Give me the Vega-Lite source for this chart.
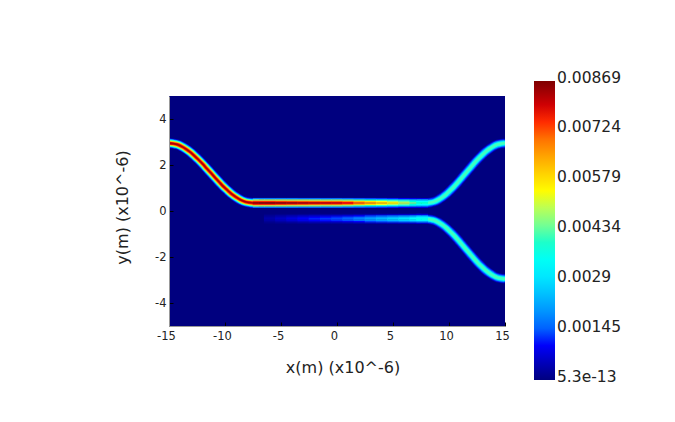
{"$schema":"https://vega.github.io/schema/vega-lite/v6.json","width":336,"height":230,"autosize":{"type":"none"},"padding":{"left":169,"top":96,"right":170,"bottom":96},"background":"white","config":{"view":{"stroke":null},"font":"DejaVu Sans"},
"datasets":{"bg":[{"x":-15,"x2":15,"y":-5,"y2":5,"v":5.3e-13}],
"strong":[{"x":-15,"y":2.95},{"x":-14.63,"y":2.93},{"x":-14.25,"y":2.89},{"x":-13.88,"y":2.81},{"x":-13.5,"y":2.7},{"x":-13.13,"y":2.57},{"x":-12.75,"y":2.41},{"x":-12.38,"y":2.24},{"x":-12,"y":2.05},{"x":-11.63,"y":1.85},{"x":-11.25,"y":1.65},{"x":-10.88,"y":1.45},{"x":-10.5,"y":1.25},{"x":-10.13,"y":1.06},{"x":-9.75,"y":0.89},{"x":-9.38,"y":0.73},{"x":-9,"y":0.6},{"x":-8.63,"y":0.49},{"x":-8.25,"y":0.41},{"x":-7.88,"y":0.37},{"x":-7.5,"y":0.35},{"x":-7,"y":0.35}],
"weak":[{"b":"up","x":7.6,"y":0.35},{"b":"up","x":8,"y":0.35},{"b":"up","x":8.35,"y":0.37},{"b":"up","x":8.7,"y":0.41},{"b":"up","x":9.05,"y":0.49},{"b":"up","x":9.4,"y":0.6},{"b":"up","x":9.75,"y":0.73},{"b":"up","x":10.1,"y":0.89},{"b":"up","x":10.45,"y":1.06},{"b":"up","x":10.8,"y":1.25},{"b":"up","x":11.15,"y":1.45},{"b":"up","x":11.5,"y":1.65},{"b":"up","x":11.85,"y":1.85},{"b":"up","x":12.2,"y":2.05},{"b":"up","x":12.55,"y":2.24},{"b":"up","x":12.9,"y":2.41},{"b":"up","x":13.25,"y":2.57},{"b":"up","x":13.6,"y":2.7},{"b":"up","x":13.95,"y":2.81},{"b":"up","x":14.3,"y":2.89},{"b":"up","x":14.65,"y":2.93},{"b":"up","x":15,"y":2.95},
{"b":"down","x":7.6,"y":-0.34},{"b":"down","x":8,"y":-0.35},{"b":"down","x":8.35,"y":-0.37},{"b":"down","x":8.7,"y":-0.41},{"b":"down","x":9.05,"y":-0.49},{"b":"down","x":9.4,"y":-0.6},{"b":"down","x":9.75,"y":-0.73},{"b":"down","x":10.1,"y":-0.89},{"b":"down","x":10.45,"y":-1.06},{"b":"down","x":10.8,"y":-1.25},{"b":"down","x":11.15,"y":-1.45},{"b":"down","x":11.5,"y":-1.65},{"b":"down","x":11.85,"y":-1.85},{"b":"down","x":12.2,"y":-2.05},{"b":"down","x":12.55,"y":-2.24},{"b":"down","x":12.9,"y":-2.41},{"b":"down","x":13.25,"y":-2.57},{"b":"down","x":13.6,"y":-2.7},{"b":"down","x":13.95,"y":-2.81},{"b":"down","x":14.3,"y":-2.89},{"b":"down","x":14.65,"y":-2.93},{"b":"down","x":15,"y":-2.95}],
"flat":[
{"x":-7,"y":0.17,"v":0.0017},{"x":-7,"y":0.53,"v":0.0017},{"x":-7,"y":0.23,"v":0.0049},{"x":-7,"y":0.47,"v":0.0049},{"x":-7,"y":0.29,"v":0.0075},{"x":-7,"y":0.41,"v":0.0075},{"x":-7,"y":0.35,"v":0.0085},
{"x":-6,"y":0.17,"v":0.0017},{"x":-6,"y":0.53,"v":0.0017},{"x":-6,"y":0.23,"v":0.0049},{"x":-6,"y":0.47,"v":0.0049},{"x":-6,"y":0.29,"v":0.0075},{"x":-6,"y":0.41,"v":0.0075},{"x":-6,"y":0.35,"v":0.0085},
{"x":-5,"y":0.17,"v":0.0017},{"x":-5,"y":0.53,"v":0.0017},{"x":-5,"y":0.23,"v":0.0049},{"x":-5,"y":0.47,"v":0.0049},{"x":-5,"y":0.29,"v":0.0074},{"x":-5,"y":0.41,"v":0.0074},{"x":-5,"y":0.35,"v":0.0084},
{"x":-4,"y":0.17,"v":0.0017},{"x":-4,"y":0.53,"v":0.0017},{"x":-4,"y":0.23,"v":0.0048},{"x":-4,"y":0.47,"v":0.0048},{"x":-4,"y":0.29,"v":0.0073},{"x":-4,"y":0.41,"v":0.0073},{"x":-4,"y":0.35,"v":0.0083},
{"x":-3,"y":0.17,"v":0.0016},{"x":-3,"y":0.53,"v":0.0016},{"x":-3,"y":0.23,"v":0.0048},{"x":-3,"y":0.47,"v":0.0048},{"x":-3,"y":0.29,"v":0.0072},{"x":-3,"y":0.41,"v":0.0072},{"x":-3,"y":0.35,"v":0.0082},
{"x":-2,"y":0.17,"v":0.0016},{"x":-2,"y":0.53,"v":0.0016},{"x":-2,"y":0.23,"v":0.0047},{"x":-2,"y":0.47,"v":0.0047},{"x":-2,"y":0.29,"v":0.0071},{"x":-2,"y":0.41,"v":0.0071},{"x":-2,"y":0.35,"v":0.0081},
{"x":-1,"y":0.17,"v":0.0016},{"x":-1,"y":0.53,"v":0.0016},{"x":-1,"y":0.23,"v":0.0046},{"x":-1,"y":0.47,"v":0.0046},{"x":-1,"y":0.29,"v":0.007},{"x":-1,"y":0.41,"v":0.007},{"x":-1,"y":0.35,"v":0.008},
{"x":0,"y":0.17,"v":0.0016},{"x":0,"y":0.53,"v":0.0016},{"x":0,"y":0.23,"v":0.0046},{"x":0,"y":0.47,"v":0.0046},{"x":0,"y":0.29,"v":0.007},{"x":0,"y":0.41,"v":0.007},{"x":0,"y":0.35,"v":0.0079},
{"x":1,"y":0.17,"v":0.0015},{"x":1,"y":0.53,"v":0.0015},{"x":1,"y":0.23,"v":0.0044},{"x":1,"y":0.47,"v":0.0044},{"x":1,"y":0.29,"v":0.0067},{"x":1,"y":0.41,"v":0.0067},{"x":1,"y":0.35,"v":0.0076},
{"x":2,"y":0.17,"v":0.0014},{"x":2,"y":0.53,"v":0.0014},{"x":2,"y":0.23,"v":0.0041},{"x":2,"y":0.47,"v":0.0041},{"x":2,"y":0.29,"v":0.0062},{"x":2,"y":0.41,"v":0.0062},{"x":2,"y":0.35,"v":0.0071},
{"x":3,"y":0.17,"v":0.0013},{"x":3,"y":0.53,"v":0.0013},{"x":3,"y":0.23,"v":0.0038},{"x":3,"y":0.47,"v":0.0038},{"x":3,"y":0.29,"v":0.0058},{"x":3,"y":0.41,"v":0.0058},{"x":3,"y":0.35,"v":0.0066},
{"x":4,"y":0.17,"v":0.0012},{"x":4,"y":0.53,"v":0.0012},{"x":4,"y":0.23,"v":0.0035},{"x":4,"y":0.47,"v":0.0035},{"x":4,"y":0.29,"v":0.0054},{"x":4,"y":0.41,"v":0.0054},{"x":4,"y":0.35,"v":0.0061},
{"x":5,"y":0.17,"v":0.0011},{"x":5,"y":0.53,"v":0.0011},{"x":5,"y":0.23,"v":0.0032},{"x":5,"y":0.47,"v":0.0032},{"x":5,"y":0.29,"v":0.0049},{"x":5,"y":0.41,"v":0.0049},{"x":5,"y":0.35,"v":0.0056},
{"x":6,"y":0.17,"v":0.001},{"x":6,"y":0.53,"v":0.001},{"x":6,"y":0.23,"v":0.0029},{"x":6,"y":0.47,"v":0.0029},{"x":6,"y":0.29,"v":0.0044},{"x":6,"y":0.41,"v":0.0044},{"x":6,"y":0.35,"v":0.005},
{"x":7,"y":0.17,"v":0.0009},{"x":7,"y":0.53,"v":0.0009},{"x":7,"y":0.23,"v":0.0026},{"x":7,"y":0.47,"v":0.0026},{"x":7,"y":0.29,"v":0.0039},{"x":7,"y":0.41,"v":0.0039},{"x":7,"y":0.35,"v":0.0044},
{"x":7.6,"y":0.17,"v":0.0008},{"x":7.6,"y":0.53,"v":0.0008},{"x":7.6,"y":0.23,"v":0.0023},{"x":7.6,"y":0.47,"v":0.0023},{"x":7.6,"y":0.29,"v":0.0034},{"x":7.6,"y":0.41,"v":0.0034},{"x":7.6,"y":0.35,"v":0.0039},
{"x":-6,"y":-0.16,"v":0.00007},{"x":-6,"y":-0.52,"v":0.00007},{"x":-6,"y":-0.22,"v":0.0002},{"x":-6,"y":-0.46,"v":0.0002},{"x":-6,"y":-0.28,"v":0.00031},{"x":-6,"y":-0.4,"v":0.00031},{"x":-6,"y":-0.34,"v":0.00035},
{"x":-5,"y":-0.16,"v":0.00011},{"x":-5,"y":-0.52,"v":0.00011},{"x":-5,"y":-0.22,"v":0.00032},{"x":-5,"y":-0.46,"v":0.00032},{"x":-5,"y":-0.28,"v":0.00048},{"x":-5,"y":-0.4,"v":0.00048},{"x":-5,"y":-0.34,"v":0.00055},
{"x":-4,"y":-0.16,"v":0.00015},{"x":-4,"y":-0.52,"v":0.00015},{"x":-4,"y":-0.22,"v":0.00044},{"x":-4,"y":-0.46,"v":0.00044},{"x":-4,"y":-0.28,"v":0.00066},{"x":-4,"y":-0.4,"v":0.00066},{"x":-4,"y":-0.34,"v":0.00075},
{"x":-3,"y":-0.16,"v":0.00019},{"x":-3,"y":-0.52,"v":0.00019},{"x":-3,"y":-0.22,"v":0.00055},{"x":-3,"y":-0.46,"v":0.00055},{"x":-3,"y":-0.28,"v":0.00084},{"x":-3,"y":-0.4,"v":0.00084},{"x":-3,"y":-0.34,"v":0.00095},
{"x":-2,"y":-0.16,"v":0.00022},{"x":-2,"y":-0.52,"v":0.00022},{"x":-2,"y":-0.22,"v":0.00064},{"x":-2,"y":-0.46,"v":0.00064},{"x":-2,"y":-0.28,"v":0.00097},{"x":-2,"y":-0.4,"v":0.00097},{"x":-2,"y":-0.34,"v":0.0011},
{"x":-1,"y":-0.16,"v":0.00024},{"x":-1,"y":-0.52,"v":0.00024},{"x":-1,"y":-0.22,"v":0.0007},{"x":-1,"y":-0.46,"v":0.0007},{"x":-1,"y":-0.28,"v":0.00106},{"x":-1,"y":-0.4,"v":0.00106},{"x":-1,"y":-0.34,"v":0.0012},
{"x":0,"y":-0.16,"v":0.00026},{"x":0,"y":-0.52,"v":0.00026},{"x":0,"y":-0.22,"v":0.00075},{"x":0,"y":-0.46,"v":0.00075},{"x":0,"y":-0.28,"v":0.00114},{"x":0,"y":-0.4,"v":0.00114},{"x":0,"y":-0.34,"v":0.0013},
{"x":1,"y":-0.16,"v":0.0003},{"x":1,"y":-0.52,"v":0.0003},{"x":1,"y":-0.22,"v":0.00087},{"x":1,"y":-0.46,"v":0.00087},{"x":1,"y":-0.28,"v":0.00132},{"x":1,"y":-0.4,"v":0.00132},{"x":1,"y":-0.34,"v":0.0015},
{"x":2,"y":-0.16,"v":0.00036},{"x":2,"y":-0.52,"v":0.00036},{"x":2,"y":-0.22,"v":0.00104},{"x":2,"y":-0.46,"v":0.00104},{"x":2,"y":-0.28,"v":0.00158},{"x":2,"y":-0.4,"v":0.00158},{"x":2,"y":-0.34,"v":0.0018},
{"x":3,"y":-0.16,"v":0.00042},{"x":3,"y":-0.52,"v":0.00042},{"x":3,"y":-0.22,"v":0.00122},{"x":3,"y":-0.46,"v":0.00122},{"x":3,"y":-0.28,"v":0.00185},{"x":3,"y":-0.4,"v":0.00185},{"x":3,"y":-0.34,"v":0.0021},
{"x":4,"y":-0.16,"v":0.00048},{"x":4,"y":-0.52,"v":0.00048},{"x":4,"y":-0.22,"v":0.00139},{"x":4,"y":-0.46,"v":0.00139},{"x":4,"y":-0.28,"v":0.00211},{"x":4,"y":-0.4,"v":0.00211},{"x":4,"y":-0.34,"v":0.0024},
{"x":5,"y":-0.16,"v":0.00054},{"x":5,"y":-0.52,"v":0.00054},{"x":5,"y":-0.22,"v":0.00157},{"x":5,"y":-0.46,"v":0.00157},{"x":5,"y":-0.28,"v":0.00238},{"x":5,"y":-0.4,"v":0.00238},{"x":5,"y":-0.34,"v":0.0027},
{"x":6,"y":-0.16,"v":0.0006},{"x":6,"y":-0.52,"v":0.0006},{"x":6,"y":-0.22,"v":0.00174},{"x":6,"y":-0.46,"v":0.00174},{"x":6,"y":-0.28,"v":0.00264},{"x":6,"y":-0.4,"v":0.00264},{"x":6,"y":-0.34,"v":0.003},
{"x":7,"y":-0.16,"v":0.00066},{"x":7,"y":-0.52,"v":0.00066},{"x":7,"y":-0.22,"v":0.00191},{"x":7,"y":-0.46,"v":0.00191},{"x":7,"y":-0.28,"v":0.0029},{"x":7,"y":-0.4,"v":0.0029},{"x":7,"y":-0.34,"v":0.0033},
{"x":7.6,"y":-0.16,"v":0.00072},{"x":7.6,"y":-0.52,"v":0.00072},{"x":7.6,"y":-0.22,"v":0.00209},{"x":7.6,"y":-0.46,"v":0.00209},{"x":7.6,"y":-0.28,"v":0.00317},{"x":7.6,"y":-0.4,"v":0.00317},{"x":7.6,"y":-0.34,"v":0.0036}
]},
"encoding":{
"x":{"field":"x","type":"quantitative","scale":{"domain":[-15,15],"nice":false,"zero":false},"axis":{"title":"x(m) (x10^-6)","titleFont":"DejaVu Sans","titleFontSize":16,"titleFontWeight":"normal","titleColor":"#222222","titlePadding":18,"titleX":173.5,"values":[-15,-10,-5,0,5,10,15],"labelExpr":"toString(datum.value)","labelFontSize":11.5,"labelColor":"#222222","labelOffset":-3,"labelPadding":8,"tickSize":-4,"tickColor":"#000000","domainColor":"#999999","grid":false,"zindex":1,"labelFlush":false}},
"y":{"field":"y","type":"quantitative","scale":{"domain":[-5,5],"nice":false,"zero":false},"axis":{"title":"y(m) (x10^-6)","titleFont":"DejaVu Sans","titleFontSize":16,"titleFontWeight":"normal","titleColor":"#222222","titlePadding":24,"titleY":111,"values":[-4,-2,0,2,4],"labelExpr":"toString(datum.value)","labelFontSize":11.5,"labelColor":"#222222","labelPadding":7,"tickSize":-4,"tickColor":"#000000","domainColor":"#999999","grid":false,"zindex":1}}
},
"layer":[
{"data":{"name":"bg"},"mark":{"type":"rect"},"encoding":{"x2":{"field":"x2"},"y2":{"field":"y2"},"color":{"field":"v","type":"quantitative","scale":{"domain":[5.3e-13,0.00104,0.00335,0.00547,0.00761,0.00869],"range":["#00007f","#0000ff","#00ffff","#ffff00","#ff0000","#7f0000"]},"legend":{"orient":"none","legendX":365,"legendY":-15,"title":null,"direction":"vertical","gradientLength":299,"gradientThickness":21,"gradientStrokeWidth":0,"values":[5.3e-13,0.00145,0.0029,0.00434,0.00579,0.00724,0.00869],"labelExpr":"datum.value<0.0001?'5.3e-13':format(datum.value,'.5~f')","labelFontSize":15.5,"labelFont":"DejaVu Sans","labelColor":"#222222","labelOffset":2,"labelOverlap":false,"tickCount":7,"encoding":{"labels":{"baseline":{"value":"middle"},"dy":{"value":-3.5}}}}}}},
{"data":{"name":"strong"},"mark":{"type":"line","strokeWidth":10,"clip":true,"interpolate":"monotone","color":"#0000d5"}},
{"data":{"name":"strong"},"mark":{"type":"line","strokeWidth":8.6,"clip":true,"interpolate":"monotone","color":"#0075ff"}},
{"data":{"name":"strong"},"mark":{"type":"line","strokeWidth":7.2,"clip":true,"interpolate":"monotone","color":"#06fff9"}},
{"data":{"name":"strong"},"mark":{"type":"line","strokeWidth":5.8,"clip":true,"interpolate":"monotone","color":"#a2ff5d"}},
{"data":{"name":"strong"},"mark":{"type":"line","strokeWidth":4.4,"clip":true,"interpolate":"monotone","color":"#ffc000"}},
{"data":{"name":"strong"},"mark":{"type":"line","strokeWidth":3,"clip":true,"interpolate":"monotone","color":"#ff1900"}},
{"data":{"name":"strong"},"mark":{"type":"line","strokeWidth":1.6,"clip":true,"interpolate":"monotone","color":"#ad0000"}},
{"data":{"name":"weak"},"mark":{"type":"line","strokeWidth":9.5,"clip":true,"interpolate":"monotone","color":"#0000bc"},"encoding":{"detail":{"field":"b"}}},
{"data":{"name":"weak"},"mark":{"type":"line","strokeWidth":8,"clip":true,"interpolate":"monotone","color":"#0033ff"},"encoding":{"detail":{"field":"b"}}},
{"data":{"name":"weak"},"mark":{"type":"line","strokeWidth":6.2,"clip":true,"interpolate":"monotone","color":"#00acff"},"encoding":{"detail":{"field":"b"}}},
{"data":{"name":"weak"},"mark":{"type":"line","strokeWidth":4.4,"clip":true,"interpolate":"monotone","color":"#06fff9"},"encoding":{"detail":{"field":"b"}}},
{"data":{"name":"weak"},"mark":{"type":"line","strokeWidth":2.6,"clip":true,"interpolate":"monotone","color":"#42ffbd"},"encoding":{"detail":{"field":"b"}}},
{"data":{"name":"flat"},"mark":{"type":"rect","width":11.8,"height":1.7,"clip":true},"encoding":{"color":{"field":"v","type":"quantitative"}}}
]}
